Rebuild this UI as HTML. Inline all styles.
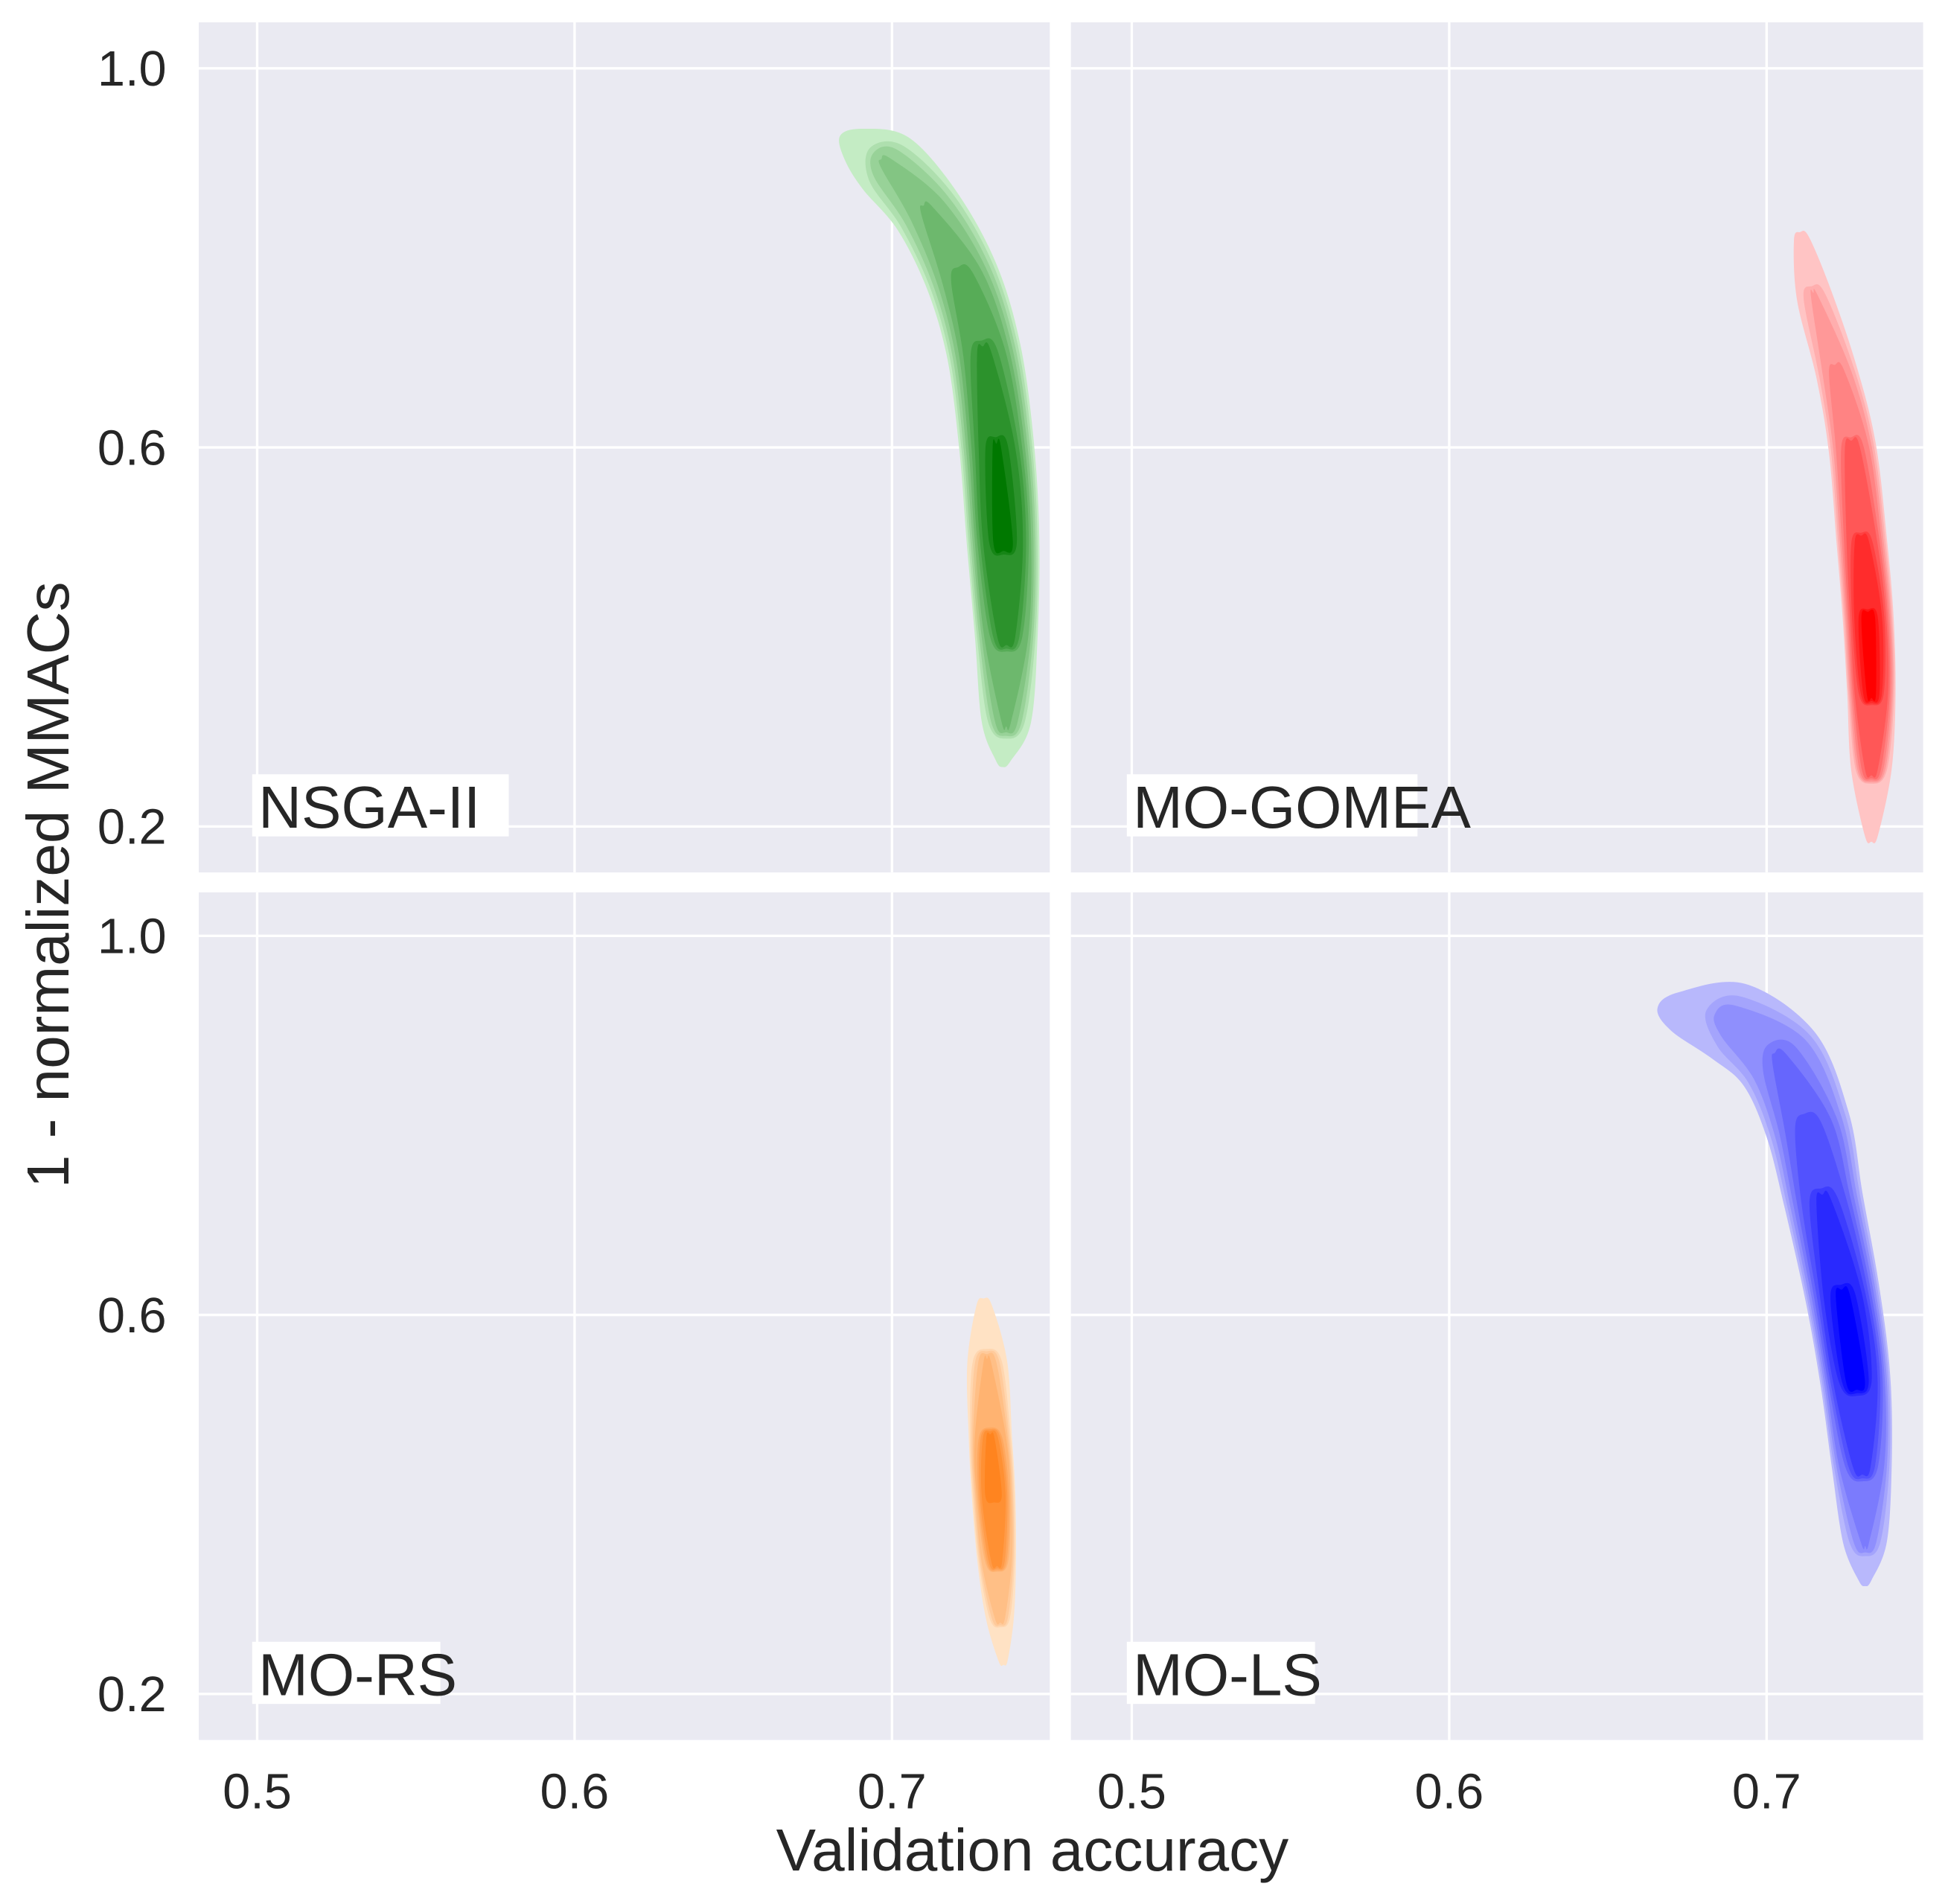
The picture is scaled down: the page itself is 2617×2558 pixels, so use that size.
<!DOCTYPE html>
<html><head><meta charset="utf-8"><style>
html,body{margin:0;padding:0;background:#fff;}
svg{display:block;font-family:"Liberation Sans",sans-serif;}
</style></head><body>
<svg id="chart" width="2617" height="2558" viewBox="0 0 1568 1532" preserveAspectRatio="none" xmlns="http://www.w3.org/2000/svg">
<rect width="1568" height="1532" fill="#fff"/>
<g id="panels"></g>
<text x="831" y="1505" font-size="48" fill="#262626" text-anchor="middle">Validation accuracy</text>
<text x="55" y="712" font-size="48" fill="#262626" text-anchor="middle" transform="rotate(-90 55 712)">1 - normalized MMACs</text>
</svg>
<script>
const xTicks = [0.5, 0.6, 0.7];
const yTicks = [0.2, 0.6, 1.0];
const xTickLabels = ["0.5", "0.6", "0.7"];
const yTickLabels = ["0.2", "0.6", "1.0"];
const panelNames = ["NSGA-II", "MO-GOMEA", "MO-RS", "MO-LS"];
// ridge points: accuracy, mmacs, relative density, outer half-width (px)
const nsgaAcc = [0.688, 0.698, 0.711, 0.722, 0.729, 0.733, 0.735, 0.736, 0.736, 0.735];
const nsgaMmac = [0.92, 0.90, 0.85, 0.78, 0.70, 0.60, 0.50, 0.40, 0.31, 0.27];
const nsgaDens = [0.1, 0.35, 0.45, 0.6, 0.75, 0.92, 1.0, 0.8, 0.45, 0.08];
const nsgaWidth = [24, 30, 30, 31, 31, 31, 30, 26, 21, 12];
const gomeaAcc = [0.711, 0.715, 0.722, 0.727, 0.730, 0.732, 0.733, 0.733, 0.733];
const gomeaMmac = [0.82, 0.76, 0.68, 0.60, 0.50, 0.42, 0.34, 0.26, 0.19];
const gomeaDens = [0.08, 0.25, 0.4, 0.6, 0.8, 1.0, 0.95, 0.6, 0.08];
const gomeaWidth = [12, 16, 18, 20, 21, 21, 20, 17, 10];
const rsAcc = [0.729, 0.730, 0.731, 0.732, 0.733, 0.734, 0.735];
const rsMmac = [0.61, 0.55, 0.47, 0.41, 0.34, 0.28, 0.235];
const rsDens = [0.08, 0.45, 0.85, 1.0, 0.8, 0.4, 0.08];
const rsWidth = [12, 17, 18, 18, 16, 12, 7];
const lsAcc = [0.671, 0.688, 0.704, 0.713, 0.718, 0.724, 0.728, 0.730, 0.731, 0.731];
const lsMmac = [0.92, 0.91, 0.87, 0.80, 0.72, 0.62, 0.53, 0.44, 0.36, 0.32];
const lsDens = [0.1, 0.3, 0.45, 0.6, 0.75, 0.95, 1.0, 0.7, 0.35, 0.08];
const lsWidth = [26, 36, 38, 36, 33, 31, 29, 25, 19, 10];

const series = [
  {acc:nsgaAcc, mm:nsgaMmac, d:nsgaDens, w:nsgaWidth, light:[196,236,196], dark:[0,120,0], name:"nsga-ii"},
  {acc:gomeaAcc, mm:gomeaMmac, d:gomeaDens, w:gomeaWidth, light:[255,196,196], dark:[255,0,0], name:"mo-gomea"},
  {acc:rsAcc, mm:rsMmac, d:rsDens, w:rsWidth, light:[255,226,196], dark:[255,120,10], name:"mo-rs"},
  {acc:lsAcc, mm:lsMmac, d:lsDens, w:lsWidth, light:[184,184,252], dark:[0,0,255], name:"mo-ls"}
];
const panelBoxes = [
  {x0:160, x1:845, y0:18, y1:702, xa:207, ya:665},
  {x0:862, x1:1548, y0:18, y1:702, xa:911, ya:665},
  {x0:160, x1:845, y0:718, y1:1400, xa:207, ya:1363},
  {x0:862, x1:1548, y0:718, y1:1400, xa:911, ya:1363}
];
const NS = "http://www.w3.org/2000/svg";
const root = document.getElementById("panels");
function mk(tag, attrs, parent){const e=document.createElementNS(NS,tag);for(const k in attrs)e.setAttribute(k,attrs[k]);parent.appendChild(e);return e;}
const nLevels = 10;
panelBoxes.forEach((b, pi) => {
  const sx = v => b.xa + (v - 0.5) * 2555;
  const sy = v => b.ya - (v - 0.2) * 762.5;
  const g = mk("g", {}, root);
  
  
  const bg = mk("rect", {x:b.x0, y:b.y0, width:b.x1-b.x0, height:b.y1-b.y0, fill:"#eaeaf2"}, g);
  
  
  xTicks.forEach(t => {
    const l = mk("line", {x1:sx(t), x2:sx(t), y1:b.y0, y2:b.y1, stroke:"#fff", "stroke-width":2}, g);
    
    
  });
  yTicks.forEach(t => {
    const l = mk("line", {x1:b.x0, x2:b.x1, y1:sy(t), y2:sy(t), stroke:"#fff", "stroke-width":2}, g);
    
    
  });
  const s = series[pi];
  const px = s.acc.map(sx), py = s.mm.map(sy);
  for (let k = 0; k < nLevels; k++) {
    const thr = 0.05 + k * 0.095;
    const idx = [];
    for (let i = 0; i < px.length; i++) if (s.d[i] > thr) idx.push(i);
    if (idx.length < 2) continue;
    const L = [], R = [];
    const ends = [];
    idx.forEach((i, j) => {
      const a = Math.max(0, i - 1), c = Math.min(px.length - 1, i + 1);
      let tx = px[c] - px[a], ty = py[c] - py[a];
      const n = Math.hypot(tx, ty) || 1; tx /= n; ty /= n;
      const nx = -ty, ny = tx;
      let hw = s.w[i] * Math.sqrt((s.d[i] - thr) / s.d[i]);
      if (j === 0 || j === idx.length - 1) hw *= 0.85;
      L.push([px[i] + nx * hw, py[i] + ny * hw]);
      R.push([px[i] - nx * hw, py[i] - ny * hw]);
      if (j === 0) ends[0] = [px[i] - tx * hw * 0.9, py[i] - ty * hw * 0.9];
      if (j === idx.length - 1) ends[1] = [px[i] + tx * hw * 0.9, py[i] + ty * hw * 0.9];
    });
    const pts = [ends[0]].concat(L, [ends[1]], R.reverse());
    const P = pts, m = P.length;
    let dStr = "M" + P[0][0].toFixed(1) + "," + P[0][1].toFixed(1);
    for (let i = 0; i < m; i++) {
      const p0 = P[(i - 1 + m) % m], p1 = P[i], p2 = P[(i + 1) % m], p3 = P[(i + 2) % m];
      const c1 = [p1[0] + (p2[0] - p0[0]) / 6, p1[1] + (p2[1] - p0[1]) / 6];
      const c2 = [p2[0] - (p3[0] - p1[0]) / 6, p2[1] - (p3[1] - p1[1]) / 6];
      dStr += "C" + c1.map(v=>v.toFixed(1)).join(",") + " " + c2.map(v=>v.toFixed(1)).join(",") + " " + p2.map(v=>v.toFixed(1)).join(",");
    }
    const f = k / (nLevels - 1);
    const col = s.light.map((v, q) => Math.round(v + (s.dark[q] - v) * f));
    const path = mk("path", {d:dStr + "Z", fill:"rgb(" + col.join(",") + ")"}, g);
    
    
  }
  const lblBg = mk("rect", {x:b.xa - 4, y:b.ya - 42, width:panelNames[pi].length * 27.5 + 14, height:50, fill:"#fff"}, g);
  
  
  const lbl = mk("text", {x:b.xa + 1, y:b.ya + 1, "font-size":48, fill:"#262626"}, g);
  lbl.textContent = panelNames[pi];
  
  
  if (pi % 2 === 0) {
    yTicks.forEach((t, i) => {
      const tx = mk("text", {x:134, y:sy(t) + 14, "font-size":40, fill:"#262626", "text-anchor":"end"}, g);
      tx.textContent = yTickLabels[i];
      
      
    });
  }
  if (pi >= 2) {
    xTicks.forEach((t, i) => {
      const tx = mk("text", {x:sx(t), y:1455, "font-size":40, fill:"#262626", "text-anchor":"middle"}, g);
      tx.textContent = xTickLabels[i];
      
      
    });
  }
});
</script>
</body></html>
